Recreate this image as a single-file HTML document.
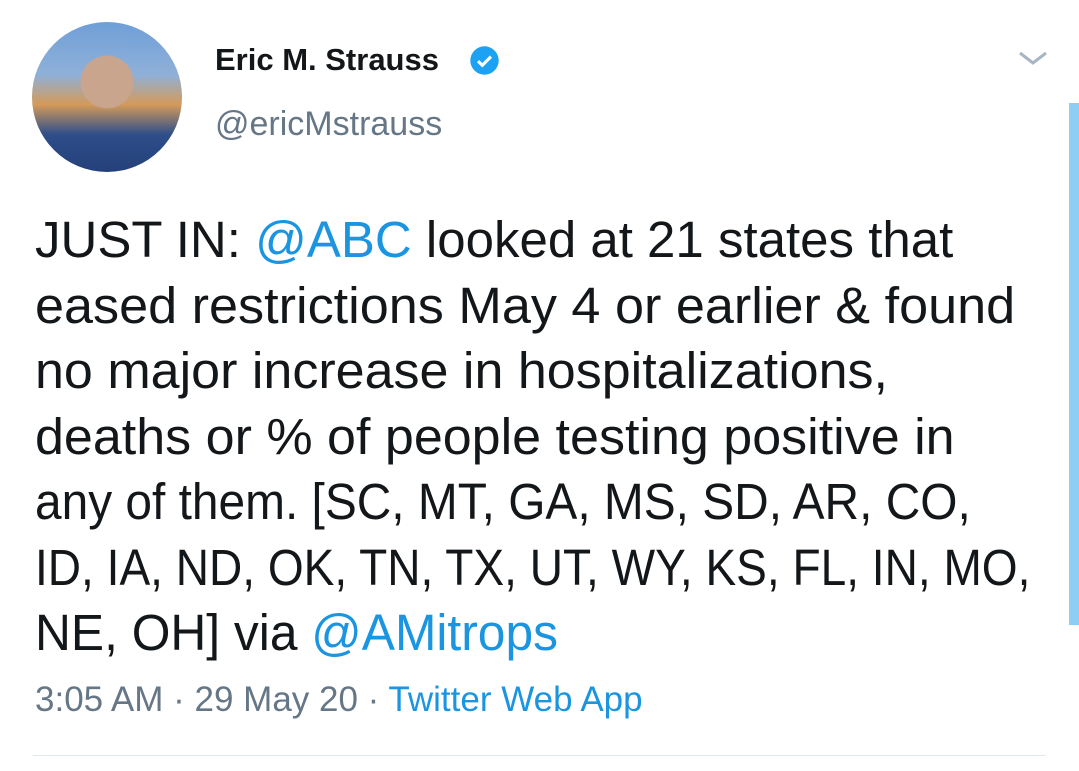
<!DOCTYPE html>
<html><head><meta charset="utf-8"><style>
body{margin:0;width:1079px;height:771px;background:#fff;position:relative;overflow:hidden;font-family:"Liberation Sans",sans-serif;}
.a{position:absolute;}
.t{color:#14171a;font-size:51px;line-height:65.5px;left:35px;top:207px;width:1040px;white-space:nowrap;}
.t div{transform-origin:0 0;height:65.5px;}
.l{color:#1b95e0;}
</style></head><body>
<div class="a" style="left:32px;top:22px;width:150px;height:150px;border-radius:50%;background:radial-gradient(circle at 50% 40%,#c9a58e 0 22%,transparent 23%),linear-gradient(180deg,#6f9fd8 0%,#8fb0d8 35%,#d49a5a 55%,#2e4e8a 75%,#24407a 100%);"></div>
<div class="a" style="left:215px;top:42px;font-size:31px;font-weight:bold;color:#14171a;">Eric M. Strauss</div>
<svg class="a" style="left:469px;top:45px" width="31" height="31" viewBox="0 0 24 24"><circle cx="12" cy="12" r="11" fill="#1da1f2"/><path d="M7 12.5l3.3 3.2L17 9" stroke="#fff" stroke-width="2.4" fill="none"/></svg>
<div class="a" style="left:215px;top:105px;font-size:34px;color:#657786;">@ericMstrauss</div>
<svg class="a" style="left:1018px;top:50px" width="30" height="18"><path d="M2 3l13 10 13-10" stroke="#a7b6c2" stroke-width="3" fill="none"/></svg>
<div class="a" style="left:1069px;top:103px;width:10px;height:522px;background:#8ecdf4;"></div>
<div class="a t">
<div style="transform:scaleX(1.0)">JUST IN: <span class="l">@ABC</span> looked at 21 states that</div>
<div style="transform:scaleX(1.023)">eased restrictions May 4 or earlier &amp; found</div>
<div style="transform:scaleX(1.02)">no major increase in hospitalizations,</div>
<div style="transform:scaleX(1.02)">deaths or % of people testing positive in</div>
<div style="transform:scaleX(0.938)">any of them. [SC, MT, GA, MS, SD, AR, CO,</div>
<div style="transform:scaleX(0.903)">ID, IA, ND, OK, TN, TX, UT, WY, KS, FL, IN, MO,</div>
<div style="transform:scaleX(0.975)">NE, OH] via <span class="l">@AMitrops</span></div>
</div>
<div class="a" style="left:35px;top:680px;font-size:35px;color:#657786;">3:05 AM · 29 May 20 · <span class="l">Twitter Web App</span></div>
<div class="a" style="left:33px;top:755px;width:1013px;height:1px;background:#e1e8ed;"></div>
</body></html>
